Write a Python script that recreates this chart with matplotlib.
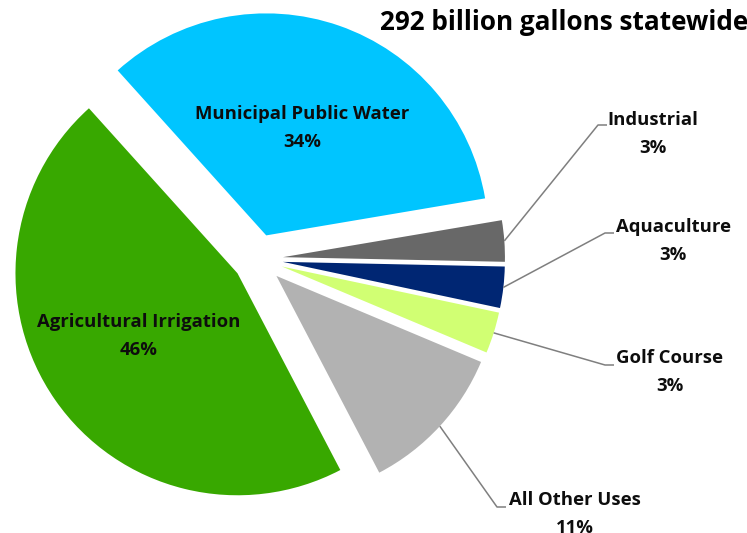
import numpy as np
import matplotlib
matplotlib.use("Agg")
import matplotlib.pyplot as plt

categories = ["Municipal Public Water", "Industrial", "Aquaculture",
              "Golf Course", "All Other Uses", "Agricultural Irrigation"]
shares = [34, 3, 3, 3, 11, 46]
colors = ["#00C5FF", "#686868", "#002673", "#D1FF73", "#B2B2B2", "#38A800"]
title = "292 billion gallons statewide"

W, H = 747, 533
fig = plt.figure(figsize=(W / 100, H / 100), dpi=100)
ax = fig.add_axes([0, 0, 1, 1])

R = 222
C = (258, H - 259)
EXP = 25
START = 132

wedges, _ = ax.pie(shares, colors=colors, startangle=START, counterclock=False,
                   radius=R, center=C, explode=[EXP] * len(shares),
                   wedgeprops=dict(linewidth=0), frame=True)
ax.set_xlim(0, W)
ax.set_ylim(0, H)
ax.set_aspect("equal")
ax.axis("off")

FONT = ["Open Sans", "DejaVu Sans"]
fs = 13.3
TC = "#0D0D0D"

def Y(y):
    return H - y

# inside labels
inside = {0: (302, 114, 142), 5: (139, 322, 350)}
for i, (x, y1, y2) in inside.items():
    ax.text(x, Y(y1), categories[i], ha="center", va="center", fontsize=fs,
            fontweight="bold", family=FONT, color=TC)
    ax.text(x, Y(y2), f"{shares[i]}%", ha="center", va="center", fontsize=fs,
            fontweight="bold", family=FONT, color=TC)

# outside labels with leader lines: (elbow x, elbow y, text x, name y, pct y)
outside = {1: (598, 125, 653, 120, 148),
           2: (605, 233, 673, 227, 255),
           3: (605, 365, 670, 358, 386),
           4: (497, 507, 575, 500, 528)}
for i, (ex, ey, tx, ny, py) in outside.items():
    w = wedges[i]
    th = np.deg2rad((w.theta1 + w.theta2) / 2)
    cx, cy = w.center
    sx, sy = cx + w.r * np.cos(th), cy + w.r * np.sin(th)
    ax.plot([sx, ex, ex + 9], [sy, Y(ey), Y(ey)], color="#7F7F7F", lw=1.1,
            solid_capstyle="butt")
    ax.text(tx, Y(ny), categories[i], ha="center", va="center", fontsize=fs,
            fontweight="bold", family=FONT, color=TC)
    ax.text(tx, Y(py), f"{shares[i]}%", ha="center", va="center", fontsize=fs,
            fontweight="bold", family=FONT, color=TC)

ax.text(380, Y(30), title, ha="left", va="baseline", fontsize=18.8,
        fontweight="bold", family=FONT, color="#000000")

fig.savefig("out.png", dpi=100)
